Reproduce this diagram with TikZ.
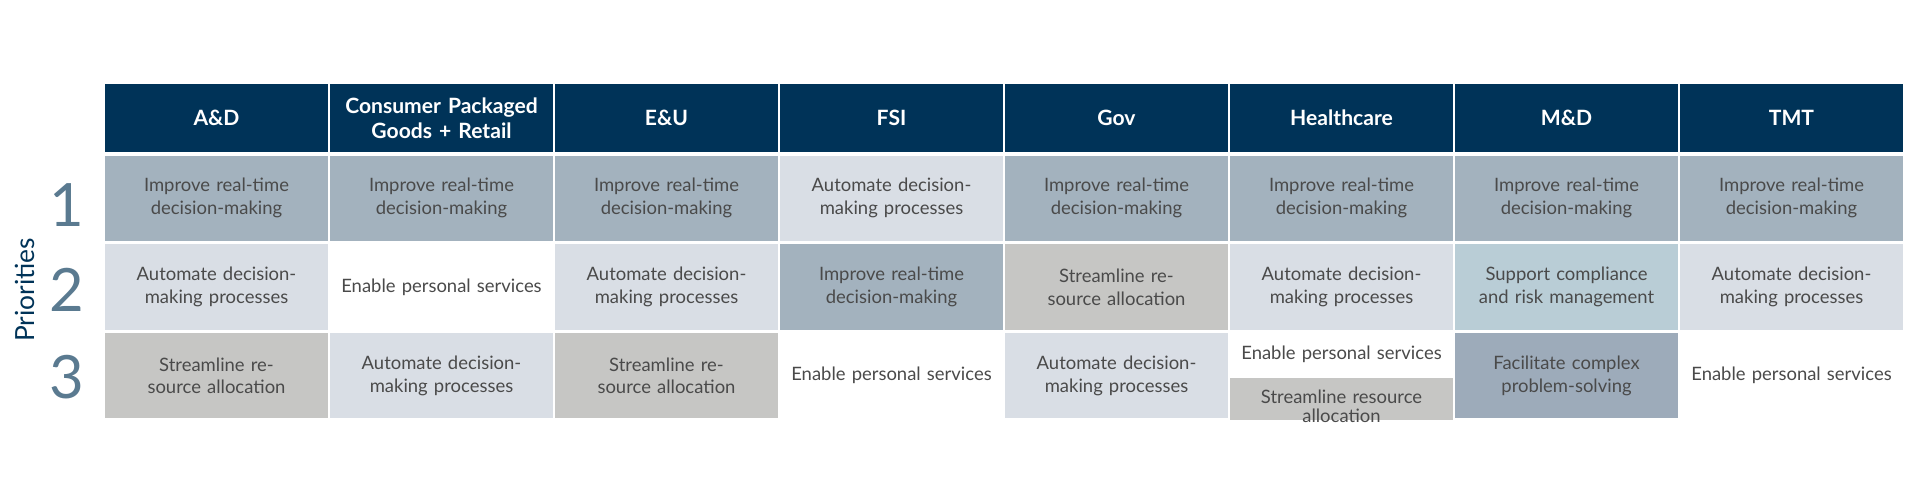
\documentclass[tikz,border=0pt]{standalone}
\usepackage{fontspec}
\setmainfont{Lato}
\usetikzlibrary{positioning}

\definecolor{navy}{HTML}{003358}
\definecolor{slate}{HTML}{A3B2BE}
\definecolor{mist}{HTML}{D9DEE5}
\definecolor{stone}{HTML}{C6C6C4}
\definecolor{sky}{HTML}{B9CDD6}
\definecolor{steel}{HTML}{9DABBA}
\definecolor{ink}{HTML}{4A4A4A}
\definecolor{numblue}{HTML}{5A7A90}

\tikzset{
  cell/.style={draw=white, line width=1pt, minimum width=4.5cm, minimum height=1.74cm,
    inner sep=2pt, text width=4.3cm, align=center, font=\fontsize{10.5}{13}\selectfont, text=ink},
  head/.style={cell, fill=navy, minimum height=1.4cm, text=white,
    font=\fontsize{12}{14}\selectfont\bfseries},
  halfcell/.style={cell, minimum height=0.87cm},
  rank/.style={font=\fontsize{34}{34}\selectfont, text=numblue}
}

\begin{document}
\begin{tikzpicture}
  \useasboundingbox (0,0) rectangle (38.4,10);

  % header row
  \foreach \i/\t in {1/A\&D, 2/{Consumer Packaged\\Goods + Retail}, 3/E\&U, 4/FSI,
                     5/Gov, 6/Healthcare, 7/M\&D, 8/TMT}
    \node[head] (h\i) at ({2.08+4.5*(\i-0.5)}, 7.64) {\t};

  % priority 1
  \foreach \i/\c/\t in {1/slate/Improve real-time decision-making,
                        2/slate/Improve real-time decision-making,
                        3/slate/Improve real-time decision-making,
                        4/mist/Automate decision-making processes,
                        5/slate/Improve real-time decision-making,
                        6/slate/Improve real-time decision-making,
                        7/slate/Improve real-time decision-making,
                        8/slate/Improve real-time decision-making}
    \node[cell, fill=\c, below=0 of h\i] (a\i) {\t};

  % priority 2
  \foreach \i/\c/\t in {1/mist/Automate decision-making processes,
                        2/white/Enable personal services,
                        3/mist/Automate decision-making processes,
                        4/slate/Improve real-time decision-making,
                        5/stone/Streamline resource allocation,
                        6/mist/Automate decision-making processes,
                        7/sky/Support compliance and risk management,
                        8/mist/Automate decision-making processes}
    \node[cell, fill=\c, below=0 of a\i] (b\i) {\t};

  % priority 3
  \foreach \i/\c/\t in {1/stone/Streamline resource allocation,
                        2/mist/Automate decision-making processes,
                        3/stone/Streamline resource allocation,
                        4/white/Enable personal services,
                        5/mist/Automate decision-making processes,
                        7/steel/Facilitate complex problem-solving,
                        8/white/Enable personal services}
    \node[cell, fill=\c, below=0 of b\i] (c\i) {\t};
  \node[halfcell, fill=white, below=0 of b6] (c6a) {Enable personal services};
  \node[halfcell, fill=stone, below=0 of c6a, text depth=0.1cm] (c6b) {Streamline resource\\[-2pt]allocation};

  % ranks
  \node[rank] (r1) at (1.34, 5.9) {1};
  \node[rank] (r2) at (1.34, 4.2) {2};
  \node[rank] (r3) at (1.34, 2.45) {3};
  \node[rotate=90, font=\fontsize{15}{15}\selectfont, text=navy] (pri) at (0.5, 4.2) {Priorities};
\end{tikzpicture}
\end{document}
